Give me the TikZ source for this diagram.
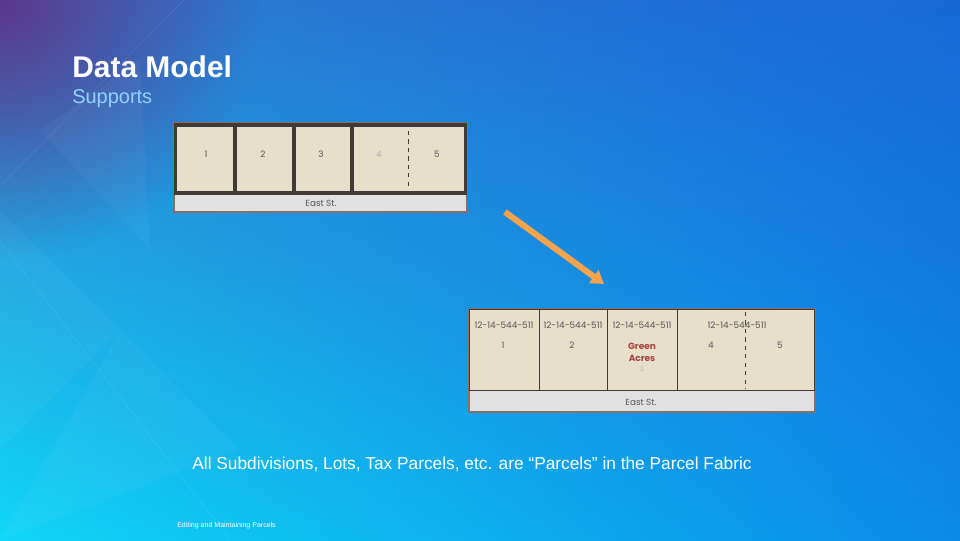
\documentclass[tikz,border=0pt]{standalone}
\usepackage{fontspec}
\setmainfont{Liberation Sans}
\newfontfamily\platfont{Poppins}
\usetikzlibrary{arrows.meta,shadings,fadings}
\tikzfading[name=cornerfade, inner color=transparent!0, outer color=transparent!100]
\definecolor{bgul}{RGB}{48,126,206}
\definecolor{bgur}{RGB}{24,104,216}
\definecolor{bgll}{RGB}{16,214,246}
\definecolor{bglr}{RGB}{10,138,230}
\definecolor{bgpurple}{RGB}{92,56,140}
\definecolor{lotfill}{HTML}{E8DFCB}
\definecolor{platedge}{HTML}{403B37}
\definecolor{platrim}{HTML}{8A6C6C}
\definecolor{streetgray}{HTML}{E1E1E1}
\definecolor{lotink}{HTML}{555555}
\definecolor{greenacres}{HTML}{A5453C}
\definecolor{subtitle}{HTML}{8FD3FF}
\definecolor{arroworange}{HTML}{F7A34C}
\tikzset{
  lot/.style={fill=lotfill},
  street/.style={fill=streetgray},
  facet/.style={white, opacity=0.035},
  lotline/.style={platedge, line width=0.6pt, dash pattern=on 3pt off 3pt},
  lotnum/.style={font=\platfont\fontsize{6.3}{7}\selectfont, text=lotink, inner sep=0pt},
  parcelid/.style={font=\platfont\fontsize{6.3}{7}\selectfont, text=lotink, inner sep=0pt},
  slidetext/.style={anchor=base west, inner sep=0pt, text=white}
}
\begin{document}
\begin{tikzpicture}[x=0.025cm,y=-0.025cm]
%%%%%%%%%%%%%%%%%%%%%%%%%%%%%%% background
\shade[upper left=bgul, upper right=bgur, lower left=bgll, lower right=bglr] (0,0) rectangle (960,540);
\useasboundingbox (0,0) rectangle (960,540);
\fill[bgpurple, path fading=cornerfade] (-260,-260) rectangle (260,260);
\fill[facet] (0,210) -- (120,330) -- (0,450) -- cycle;
\fill[facet] (120,330) -- (240,450) -- (0,540) -- cycle;
\fill[facet] (40,130) -- (140,60) -- (150,250) -- cycle;
\draw[white, opacity=0.1, thin] (0,186) -- (184,0);
\draw[white, opacity=0.1, thin] (0,241) -- (230,540);
%%%%%%%%%%%%%%%%%%%%%%%%%%%%%%% titles
\node[slidetext, font=\bfseries\fontsize{21.3}{24}\selectfont] (title) at (72,77) {Data Model};
\node[slidetext, text=subtitle, font=\fontsize{14.2}{16}\selectfont] (subtitle) at (72,103) {Supports};
%%%%%%%%%%%%%%%%%%%%%%%%%%%%%%% plat before
\fill[platrim] (173,122) rectangle (468,213);
\fill[platedge] (174,123) rectangle (467,195);
\fill[street] (175,195) rectangle (466,211);
\fill[lot] (177,127) rectangle (233,191);
\fill[lot] (237,127) rectangle (292,191);
\fill[lot] (296,127) rectangle (350,191);
\fill[lot] (354,127) rectangle (464,191);
\draw[lotline] (408,131) -- (408,189);
\node[lotnum] (oldone) at (206,154) {1};
\node[lotnum] (oldtwo) at (263,154) {2};
\node[lotnum] (oldthree) at (321,154) {3};
\node[lotnum, text=lotink!45] (oldfour) at (379,154) {4};
\node[lotnum] (oldfive) at (437,154) {5};
\node[lotnum] (oldstreet) at (321,203) {East St.};
%%%%%%%%%%%%%%%%%%%%%%%%%%%%%%% plat after
\fill[platrim] (468,308) rectangle (816,413);
\fill[platedge] (469,309) rectangle (815,391);
\fill[street] (470,391) rectangle (814,411);
\fill[lot] (470,310) rectangle (538.7,389.5);
\fill[lot] (540.3,310) rectangle (606.7,389.5);
\fill[lot] (608.3,310) rectangle (676.7,389.5);
\fill[lot] (678.3,310) rectangle (814,389.5);
\draw[lotline] (745,312) -- (745,388);
\node[parcelid] (idone) at (504,325) {12-14-544-511};
\node[parcelid] (idtwo) at (573,325) {12-14-544-511};
\node[parcelid] (idthree) at (642,325) {12-14-544-511};
\node[parcelid] (idfour) at (737,325) {12-14-544-511};
\node[lotnum] (newone) at (503,345) {1};
\node[lotnum] (newtwo) at (572,345) {2};
\node[lotnum, text=greenacres, font=\platfont\bfseries\fontsize{6.4}{8.3}\selectfont, align=center] (green) at (642,352) {Green\\Acres};
\node[lotnum, text=lotink!45, font=\platfont\fontsize{4.5}{5}\selectfont] (newthree) at (642,369) {3};
\node[lotnum] (newfour) at (711,345) {4};
\node[lotnum] (newfive) at (780,345) {5};
\node[lotnum] (newstreet) at (641,402) {East St.};
%%%%%%%%%%%%%%%%%%%%%%%%%%%%%%% arrow
\coordinate (arrowtail) at (505,212);
\coordinate (arrowtip) at (604,284);
\draw[arroworange, line width=4.3pt, -{Triangle[length=9pt, width=11pt]}] (arrowtail) -- (arrowtip);
%%%%%%%%%%%%%%%%%%%%%%%%%%%%%%% captions
\node[text=white, font=\fontsize{12.3}{14}\selectfont, inner sep=0pt] (caption) at (472,464)
  {All Subdivisions, Lots, Tax Parcels, etc. are ``Parcels'' in the Parcel Fabric};
\node[slidetext, font=\fontsize{5}{6}\selectfont] (footer) at (177,527) {Editing and Maintaining Parcels};
\end{tikzpicture}
\end{document}
